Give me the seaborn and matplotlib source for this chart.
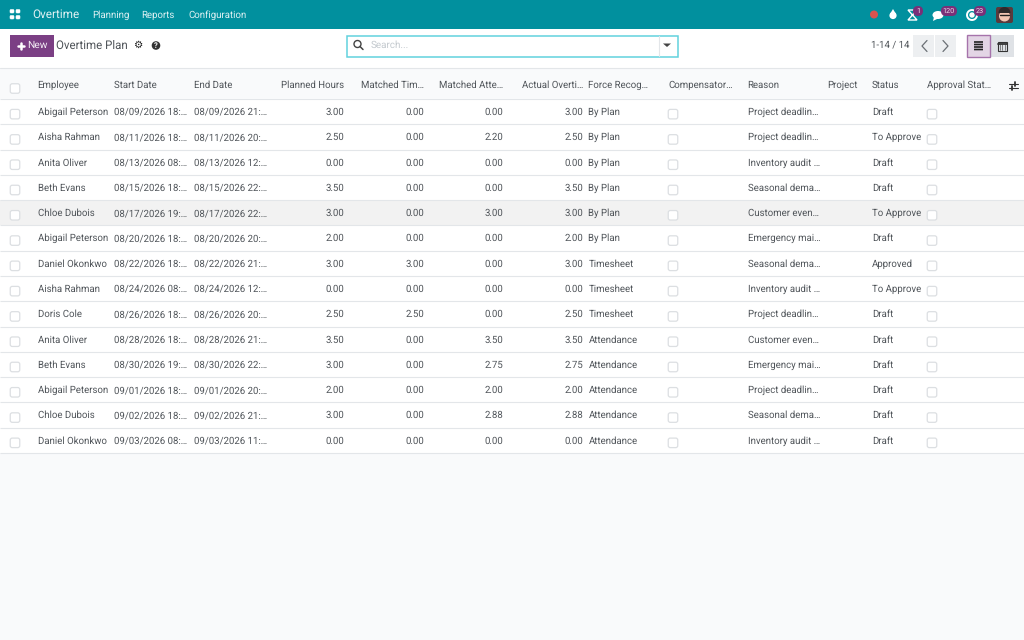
import matplotlib
matplotlib.use("Agg")
import matplotlib.pyplot as plt
import numpy as np
import pandas as pd
import seaborn as sns
from matplotlib.patches import FancyBboxPatch, Rectangle, Circle, Polygon, Ellipse, Wedge, Arc

employees = ["Abigail Peterson", "Aisha Rahman", "Anita Oliver", "Beth Evans", "Chloe Dubois",
             "Abigail Peterson", "Daniel Okonkwo", "Aisha Rahman", "Doris Cole", "Anita Oliver",
             "Beth Evans", "Abigail Peterson", "Chloe Dubois", "Daniel Okonkwo"]
start_dates = ["08/09/2026 18", "08/11/2026 18", "08/13/2026 08", "08/15/2026 18", "08/17/2026 19",
               "08/20/2026 18", "08/22/2026 18", "08/24/2026 08", "08/26/2026 18", "08/28/2026 18",
               "08/30/2026 19", "09/01/2026 18", "09/02/2026 18", "09/03/2026 08"]
end_dates = ["08/09/2026 21", "08/11/2026 20", "08/13/2026 12", "08/15/2026 22", "08/17/2026 22",
             "08/20/2026 20", "08/22/2026 21", "08/24/2026 12", "08/26/2026 20", "08/28/2026 21",
             "08/30/2026 22", "09/01/2026 20", "09/02/2026 21", "09/03/2026 11"]
planned = [3.00, 2.50, 0.00, 3.50, 3.00, 2.00, 3.00, 0.00, 2.50, 3.50, 3.00, 2.00, 3.00, 0.00]
matched_time = [0.00, 0.00, 0.00, 0.00, 0.00, 0.00, 3.00, 0.00, 2.50, 0.00, 0.00, 0.00, 0.00, 0.00]
matched_att = [0.00, 2.20, 0.00, 0.00, 3.00, 0.00, 0.00, 0.00, 0.00, 3.50, 2.75, 2.00, 2.88, 0.00]
actual = [3.00, 2.50, 0.00, 3.50, 3.00, 2.00, 3.00, 0.00, 2.50, 3.50, 2.75, 2.00, 2.88, 0.00]
force = ["By Plan"] * 6 + ["Timesheet"] * 3 + ["Attendance"] * 5
reasons = ["Project deadlin…", "Project deadlin…", "Inventory audit …", "Seasonal dema…", "Customer even…",
           "Emergency mai…", "Seasonal dema…", "Inventory audit …", "Project deadlin…", "Customer even…",
           "Emergency mai…", "Project deadlin…", "Seasonal dema…", "Inventory audit …"]
statuses = ["Draft", "To Approve", "Draft", "Draft", "To Approve", "Draft", "Approved", "To Approve",
            "Draft", "Draft", "Draft", "Draft", "Draft", "Draft"]
headers = ["Employee", "Start Date", "End Date", "Planned Hours", "Matched Tim…", "Matched Atte…",
           "Actual Overti…", "Force Recog…", "Compensator…", "Reason", "Project", "Status", "Approval Stat…"]
menu_items = ["Planning", "Reports", "Configuration"]
highlighted_row = 4

TEAL = "#01909e"
PURPLE = "#7b3f84"
BADGE = "#7a2f78"
TXT = "#4f5459"
LINE = "#e3e6e9"
PAGE = "#f9fafb"
W, H = 1024, 640
FS = 6.95

sns.set_theme(style="white")
plt.rcParams["font.family"] = ["Roboto", "DejaVu Sans"]
plt.rcParams["text.hinting"] = "no_hinting"
plt.rcParams["text.hinting_factor"] = 8

fig = plt.figure(figsize=(W / 100, H / 100), dpi=100, facecolor=PAGE)
ax = fig.add_axes([0, 0, 1, 1], zorder=2)
ax.set_xlim(0, W)
ax.set_ylim(H, 0)
ax.axis("off")
ax.patch.set_alpha(0)

# table rows drawn as a one-column seaborn heatmap
table_top, table_bottom = 99.0, 453.0
row_h = (table_bottom - table_top) / len(employees)
ax_rows = fig.add_axes([0, 1 - table_bottom / H, 1, (table_bottom - table_top) / H], zorder=1)
shade = pd.DataFrame({"row": [1.0 if i == highlighted_row else 0.0 for i in range(len(employees))]})
sns.heatmap(shade, ax=ax_rows, cbar=False, cmap=["#ffffff", "#f2f2f2"], linewidths=0,
            xticklabels=False, yticklabels=False)
ax_rows.hlines(np.arange(len(employees) + 1), 0, 1, color=LINE, lw=0.8, clip_on=False)

def rect(x0, y0, x1, y1, fc, ec="none", lw=0, z=1):
    ax.add_patch(Rectangle((x0, y0), x1 - x0, y1 - y0, fc=fc, ec=ec, lw=lw, zorder=z))

def txt(x, y, s, size=FS, color=TXT, ha="left", **kw):
    ax.text(x, y, s, fontsize=size, color=color, ha=ha, va="center", zorder=5, **kw)

def checkbox(cx, cy, size=9.5):
    ax.add_patch(FancyBboxPatch((cx - size / 2, cy - size / 2), size, size, boxstyle="round,pad=0,rounding_size=2",
                                fc="white", ec="#dcdfe2", lw=0.9, zorder=4))

# top bar
rect(0, 0, W, 29, TEAL)
rect(0, 29, W, 68, "white")
for dx, dy in [(0, 0), (6, 0), (0, 6), (6, 6)]:
    ax.add_patch(FancyBboxPatch((10 + dx, 9.5 + dy), 4, 3.5, boxstyle="round,pad=0,rounding_size=1", fc="white", ec="white", lw=0.4, zorder=4))
txt(32, 15, "Overtime", size=8.5, color="#dff1f3")
for x, s in zip([92.5, 141.5, 188.5], menu_items):
    txt(x, 15, s, size=6.95, color="#dff1f3")

# top-right icons
ax.add_patch(Circle((874, 14.5), 4, fc="#d9534f", ec="none", zorder=4))
ax.add_patch(Circle((893, 15.5), 3.6, fc="white", ec="none", zorder=4))
ax.add_patch(Polygon([[893, 9], [890, 14], [896, 14]], fc="white", ec="none", zorder=4))
ax.add_patch(Polygon([[908, 10], [917, 10], [908, 20], [917, 20]], fc=TEAL, ec="white", lw=1.0, zorder=4))
ax.add_patch(Ellipse((938, 15), 11, 8, fc="white", ec="none", zorder=4))
ax.add_patch(Polygon([[934, 17], [933, 21], [939, 18]], fc="white", ec="none", zorder=4))
ax.add_patch(Arc((972, 15), 10, 10, theta1=0, theta2=300, ec="white", lw=1.4, zorder=4))
ax.add_patch(Wedge((972, 15), 2, 0, 360, fc="white", zorder=4))
for cx, cy, w, s in [(918, 11, 10, "1"), (949, 11, 16, "120"), (980, 11, 12, "23")]:
    ax.add_patch(FancyBboxPatch((cx - w / 2, cy - 5), w, 10, boxstyle="round,pad=0,rounding_size=5", fc=BADGE, ec="none", zorder=5))
    ax.text(cx, cy, s, fontsize=5.2, color="#e8dbe8", ha="center", va="center", zorder=6)
# avatar
ax.add_patch(FancyBboxPatch((996, 7), 17, 16, boxstyle="round,pad=0,rounding_size=2", fc="#5a3a3c", ec="none", zorder=4))
ax.add_patch(Circle((1004.5, 16), 5.5, fc="#f1c6b4", ec="none", zorder=5))
ax.add_patch(Wedge((1004.5, 13), 6, 180, 360, fc="#2d2a2c", ec="none", zorder=6))
ax.plot([1000, 1009], [15, 15], color="#222222", lw=1, zorder=7)

# control panel
rect(10, 35, 54, 57, PURPLE)
ax.plot([18, 24], [45.5, 45.5], color="white", lw=1.8, zorder=5)
ax.plot([21, 21], [42.5, 48.5], color="white", lw=1.8, zorder=5)
txt(27.5, 45.5, "New", size=7.4, color="#f3ecf4")
txt(56.5, 46, "Overtime Plan", size=8.3, color=TXT)
ax.text(137.5, 45.5, "⚙", fontsize=7.5, color="#222222", ha="center", va="center", family="DejaVu Sans", fontweight="bold", zorder=5)
ax.add_patch(Circle((156, 45.5), 4.3, fc="#333333", ec="none", zorder=4))
ax.text(156, 45.7, "?", fontsize=5.5, color="white", ha="center", va="center", fontweight="bold", zorder=5)

# search
rect(347, 35.5, 677.5, 56.5, "white", ec="#62d2de", lw=1.1, z=3)
ax.plot([658.5, 658.5], [36, 56], color=LINE, lw=0.8, zorder=4)
ax.add_patch(Polygon([[663, 43.5], [671, 43.5], [667, 47]], fc="#444444", ec="none", zorder=4))
ax.add_patch(Circle((357.5, 44), 3.5, fc="none", ec="#444444", lw=1.0, zorder=4))
ax.plot([360, 363], [46.5, 49.5], color="#444444", lw=1.1, zorder=4)
txt(371, 45, "Search...", size=7.1, color="#c3c9ce")

# pager and views
txt(909, 45, "1-14 / 14", size=6.95, ha="right")
rect(913, 35, 934, 57, "#edeff1")
rect(935, 35, 956, 57, "#edeff1")
ax.plot([927, 922, 927], [40.5, 46, 51.5], color="#6b7075", lw=0.9, zorder=4)
ax.plot([943, 948, 943], [40.5, 46, 51.5], color="#6b7075", lw=0.9, zorder=4)
rect(967, 35, 990, 57, "#e3d5e5", ec="#a673ab", lw=1, z=3)
rect(990.5, 35, 1014, 57, "#dfe2e6")
for y in [42, 44.5, 47, 49.5]:
    ax.plot([974, 983], [y, y], color="#222222", lw=1.2, solid_capstyle="butt", zorder=5, snap=False)
ax.add_patch(Rectangle((997.5, 41.5), 9.5, 9, fc="#dfe2e6", ec="#333333", lw=0.8, zorder=5))
ax.plot([997.5, 1007], [43.5, 43.5], color="#333333", lw=1.3, zorder=5)
for xv in [1000, 1002.3, 1004.6]:
    ax.plot([xv, xv], [44, 50], color="#333333", lw=0.4, zorder=5)

# table header
rect(0, 68, W, 99, PAGE)
ax.plot([0, W], [67.5, 67.5], color=LINE, lw=0.8, zorder=3)
left_x = [37.5, 114, 194, None, None, None, None, 588.5, 668, 747.5, 827, 872, 927]
right_x = {3: 344, 4: 424, 5: 503, 6: 583}
for i, h in enumerate(headers):
    if i in right_x:
        txt(right_x[i], 85, h, ha="right")
    else:
        txt(left_x[i], 85, h)
checkbox(15, 88.5)
for y in [83.5, 88]:
    ax.plot([1008.5, 1018], [y, y], color="#333333", lw=0.8, zorder=5)
ax.plot([1015, 1015], [81.5, 85.5], color="#333333", lw=1.3, zorder=5)
ax.plot([1011.5, 1011.5], [86, 90], color="#333333", lw=1.3, zorder=5)

# table body
for i in range(len(employees)):
    y = table_top + row_h * (i + 0.5) + 0.5
    checkbox(15, y + 2)
    txt(37.5, y, employees[i])
    txt(114, y, start_dates[i] + ":…")
    txt(194, y, end_dates[i] + ":…")
    for x, series in zip([344, 424, 503, 583], [planned, matched_time, matched_att, actual]):
        txt(x, y, f"{series[i]:.2f}", ha="right")
    txt(588.5, y, force[i])
    checkbox(673, y + 2)
    txt(747.5, y, reasons[i])
    txt(872, y, statuses[i])
    checkbox(932, y + 2)

fig.savefig("out.png", dpi=100, facecolor=PAGE)
